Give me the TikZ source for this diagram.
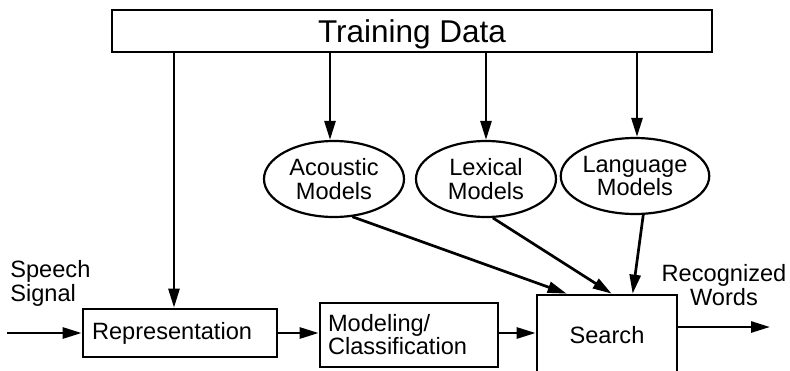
\documentclass[tikz,border=0pt]{standalone}
\usepackage{fontspec}
\setmainfont{Liberation Sans}
\usetikzlibrary{positioning,arrows.meta,shapes.geometric}
\tikzset{
every path/.style={line width=2.7pt}
, every node/.style={font=\fontsize{23.6}{23.5}\selectfont, inner sep=0pt}
, flow/.style={-{Triangle[length=19pt,width=11pt]}}
, stagebox/.style={draw, rectangle, inner xsep=9pt, text width=176pt, minimum height=48pt, align=left}
, modelnode/.style={draw, ellipse, line width=2.2pt, minimum width=140pt, minimum height=76pt, align=center}}

\begin{document}
\begin{tikzpicture}[x=1pt, y=-1pt]
\useasboundingbox (0,0) rectangle (790,370);
\node[draw, minimum width=600pt, minimum height=42pt, text depth=0pt, font=\fontsize{31.5}{32}\selectfont] at (412,31) (td) {Training Data};
\node[modelnode] at (334,179) (am) {Acoustic\\Models};
\node[modelnode] at (486,179) (lm) {Lexical\\Models};
\node[modelnode] at (635,176) (lgm) {Language\\Models};
\node[stagebox] at (180,333) (rep) {Representation};
\node[stagebox, inner xsep=8pt, text width=162pt, minimum height=64pt, font=\fontsize{23.6}{20}\selectfont] at (409,335) (mdl) {Modeling/\\Classification};
\node[draw, minimum width=140pt, minimum height=80pt] at (607,335) (srch) {Search};
\node[anchor=west, align=left] at (9,283.5) (sig) {Speech\\Signal};
\node[align=center] at (724,285) (wrd) {Recognized\\Words};
\coordinate (in) at (7,333);
\coordinate (out) at (770,327);
% training data feeds every stage
\draw [flow] ([xshift=-6pt]rep.north |- td.south) -- ([xshift=-6pt]rep.north);
\draw [flow] ([xshift=-4pt]am.north |- td.south) -- ([xshift=-4pt]am.north);
\draw [flow] (lm.north |- td.south) -- (lm.north);
\draw [flow] ([xshift=2pt]lgm.north |- td.south) -- ([xshift=2pt]lgm.north);
% models into search
\draw [flow] (am.-64) -- ([xshift=31pt]srch.north west);
\draw [flow] (lm.-80) -- ([xshift=76pt]srch.north west);
\draw [flow] (lgm.-78) -- ([xshift=97pt]srch.north west);
% main chain
\draw [flow] (in) -- (rep.west);
\draw [flow] (rep.east) -- (rep.east -| mdl.west);
\draw [flow] (mdl.east |- rep.east) -- (srch.west |- rep.east);
\draw [flow] (srch.east |- out) -- (out);
\end{tikzpicture}
\end{document}
